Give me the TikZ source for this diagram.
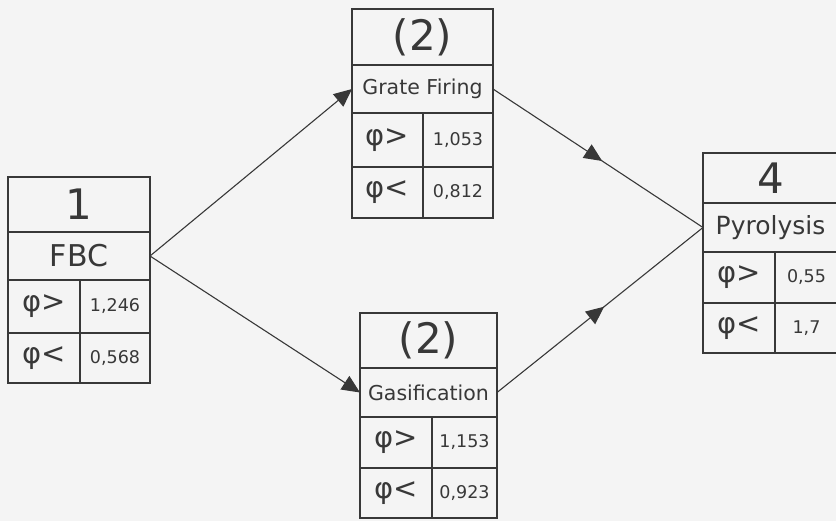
\documentclass[tikz,border=0pt]{standalone}
\usepackage{fontspec}
\setmainfont{DejaVu Sans}
\usetikzlibrary{arrows.meta,decorations.markings}
\definecolor{ink}{HTML}{383838}
\definecolor{paper}{HTML}{F4F4F4}
\tikzset{
  cell/.style={draw=ink, line width=1.3pt, inner sep=0pt, outer sep=0pt, anchor=north west, text=ink},
  ttl/.style={font=\fontsize{42}{44}\selectfont},
  phi/.style={font=\fontsize{29}{31}\selectfont},
  val/.style={font=\fontsize{17.5}{19}\selectfont},
  conn/.style={draw=ink, line width=1.1pt},
  tip/.style={-{Triangle[length=18pt,width=16pt]}},
  midarrow/.style={postaction={decorate}, decoration={markings, mark=at position 0.52 with {\arrow{Triangle[length=18pt,width=16pt]}}}}
}
\begin{document}
\begin{tikzpicture}[x=1pt,y=-1pt]
\clip (0,0) rectangle (836,521);
\fill[paper] (0,0) rectangle (836,521);

% Box 1
\node[cell, minimum width=142pt, minimum height=55pt, ttl] (b1t) at (8,177) {1};
\node[cell, minimum width=142pt, minimum height=48pt, font=\fontsize{30}{32}\selectfont] (b1n) at (b1t.south west) {FBC};
\node[cell, minimum width=72pt, minimum height=53pt, phi] (b1p) at (b1n.south west) {φ>};
\node[cell, minimum width=70pt, minimum height=53pt, val] (b1pv) at (b1p.north east) {1,246};
\node[cell, minimum width=72pt, minimum height=50pt, phi] (b1q) at (b1p.south west) {φ<};
\node[cell, minimum width=70pt, minimum height=50pt, val] (b1qv) at (b1q.north east) {0,568};

% Box 2 (Grate Firing)
\node[cell, minimum width=141pt, minimum height=56pt, ttl] (b2t) at (352,9) {(2)};
\node[cell, minimum width=141pt, minimum height=48pt, font=\fontsize{20.5}{22}\selectfont] (b2n) at (b2t.south west) {Grate Firing};
\node[cell, minimum width=71pt, minimum height=54pt, phi] (b2p) at (b2n.south west) {φ>};
\node[cell, minimum width=70pt, minimum height=54pt, val] (b2pv) at (b2p.north east) {1,053};
\node[cell, minimum width=71pt, minimum height=51pt, phi] (b2q) at (b2p.south west) {φ<};
\node[cell, minimum width=70pt, minimum height=51pt, val] (b2qv) at (b2q.north east) {0,812};

% Box 3 (Gasification)
\node[cell, minimum width=137pt, minimum height=55pt, ttl] (b3t) at (360,313) {(2)};
\node[cell, minimum width=137pt, minimum height=49pt, font=\fontsize{20.5}{22}\selectfont] (b3n) at (b3t.south west) {Gasification};
\node[cell, minimum width=72pt, minimum height=51pt, phi] (b3p) at (b3n.south west) {φ>};
\node[cell, minimum width=65pt, minimum height=51pt, val] (b3pv) at (b3p.north east) {1,153};
\node[cell, minimum width=72pt, minimum height=50pt, phi] (b3q) at (b3p.south west) {φ<};
\node[cell, minimum width=65pt, minimum height=50pt, val] (b3qv) at (b3q.north east) {0,923};

% Box 4 (Pyrolysis)
\node[cell, minimum width=135pt, minimum height=50pt, ttl] (b4t) at (703,153) {4};
\node[cell, minimum width=135pt, minimum height=49pt, font=\fontsize{25}{27}\selectfont] (b4n) at (b4t.south west) {Pyrolysis};
\node[cell, minimum width=72pt, minimum height=51pt, phi] (b4p) at (b4n.south west) {φ>};
\node[cell, minimum width=63pt, minimum height=51pt, val] (b4pv) at (b4p.north east) {0,55};
\node[cell, minimum width=72pt, minimum height=50pt, phi] (b4q) at (b4p.south west) {φ<};
\node[cell, minimum width=63pt, minimum height=50pt, val] (b4qv) at (b4q.north east) {1,7};

% Connectors
\draw[conn, tip] (b1n.east) -- (b2n.west);
\draw[conn, tip] (b1n.east) -- (b3n.west);
\draw[conn, midarrow] (b2n.east) -- (b4n.west);
\draw[conn, midarrow] (b3n.east) -- (b4n.west);
\end{tikzpicture}
\end{document}
